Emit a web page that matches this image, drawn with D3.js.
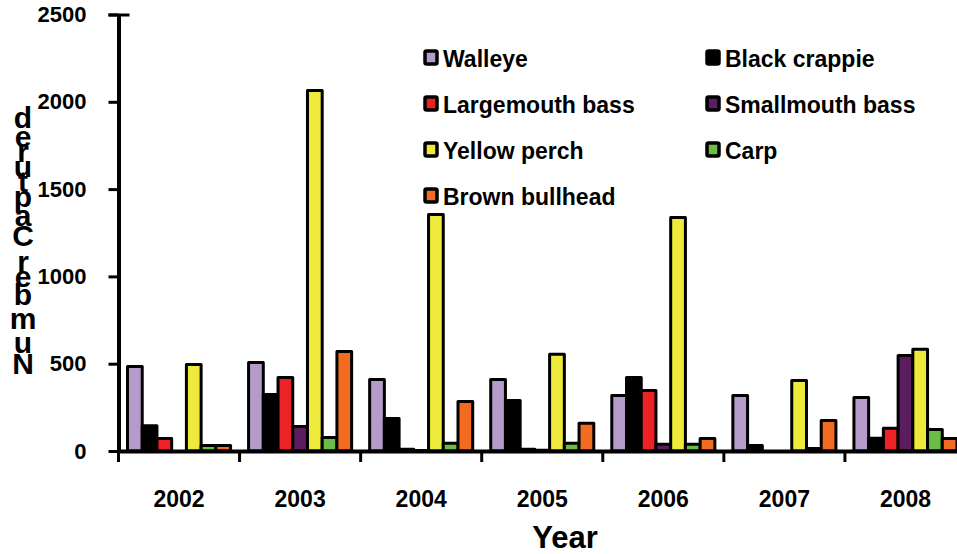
<!DOCTYPE html>
<html>
<head>
<meta charset="utf-8">
<script src="https://cdn.jsdelivr.net/npm/d3@7"></script>
<style>
  html, body { margin: 0; padding: 0; background: #fff; }
  svg { display: block; font-family: "Liberation Sans", Arial, sans-serif; font-weight: bold; }
</style>
</head>
<body>
<svg id="chart" width="957" height="554"></svg>
<script>
// ---- data ----
const years = ["2002", "2003", "2004", "2005", "2006", "2007", "2008"];
const species = ["Walleye", "Black crappie", "Largemouth bass", "Smallmouth bass", "Yellow perch", "Carp", "Brown bullhead"];
const walleye        = [484, 507, 410, 410, 318, 318, 306];
const blackCrappie   = [145, 324, 186, 289, 421, 31, 73];
const largemouthBass = [72, 421, 10, 10, 347, 0, 131];
const smallmouthBass = [0, 140, 3, 5, 39, 0, 547];
const yellowPerch    = [495, 2065, 1355, 554, 1337, 404, 583];
const carp           = [31, 77, 45, 45, 39, 15, 123];
const brownBullhead  = [31, 570, 283, 159, 72, 175, 72];
const yTicks = [0, 500, 1000, 1500, 2000, 2500];
const colors = ["#b59bc9", "#000000", "#ec2227", "#5b1d5f", "#eeea3b", "#6cbd45", "#f26b21"];
const yTitle = "Number Captured";
const xTitle = "Year";

const seriesValues = [walleye, blackCrappie, largemouthBass, smallmouthBass, yellowPerch, carp, brownBullhead];
const series = species.map((name, i) => ({ name, color: colors[i], values: seriesValues[i] }));

// ---- layout ----
const svg = d3.select("#chart");
const x0 = 118.5, x1 = 966, yBase = 451, yTop = 14.5;
const FONT = "'Liberation Sans', Arial, sans-serif";

const x = d3.scaleBand().domain(years).range([x0, x1]).paddingInner(0).paddingOuter(0);
const xInner = d3.scaleBand().domain(species).range([9, x.bandwidth() - 9]).padding(0);
const y = d3.scaleLinear().domain([0, 2500]).range([yBase, yTop]);

// bars
const groups = svg.append("g").selectAll("g")
  .data(years).join("g")
  .attr("transform", d => `translate(${x(d)},0)`);

groups.selectAll("rect")
  .data((yr, gi) => series.map(s => ({ name: s.name, color: s.color, v: s.values[gi] })))
  .join("rect")
  .attr("x", d => xInner(d.name))
  .attr("width", xInner.bandwidth())
  .attr("y", d => y(d.v))
  .attr("height", d => yBase - y(d.v))
  .attr("fill", d => d.color)
  .attr("stroke", "#000")
  .attr("stroke-width", 3)
  .attr("stroke-linejoin", "round");

// y axis
const yAxis = d3.axisLeft(y).tickValues(yTicks).tickFormat(d3.format("d"))
  .tickSize(10).tickPadding(22).tickSizeOuter(0);
const gy = svg.append("g").attr("transform", `translate(${x0},0)`).call(yAxis);
gy.select(".domain").attr("stroke", "#000").attr("stroke-width", 4);
gy.selectAll(".tick line").attr("stroke", "#000").attr("stroke-width", 3)
  .attr("x2", d => d === 2500 ? 0 : -10)
  .attr("x1", d => d === 2500 ? -10 : 0);
gy.selectAll(".tick").filter(d => d === 2500).append("line")
  .attr("x1", -10).attr("x2", 11).attr("stroke", "#000").attr("stroke-width", 3);
gy.selectAll(".tick text").attr("font-size", 22).attr("font-weight", "bold")
  .attr("font-family", FONT).attr("fill", "#000");

// x axis
const xAxis = d3.axisBottom(x).tickSize(0).tickPadding(40);
const gx = svg.append("g").attr("transform", `translate(0,${yBase})`).call(xAxis);
gx.select(".domain").attr("stroke", "#000").attr("stroke-width", 4);
gx.selectAll(".tick text").attr("font-size", 23).attr("font-weight", "bold")
  .attr("font-family", FONT).attr("fill", "#000");
// category boundary ticks
gx.append("g").selectAll("line")
  .data(years).join("line")
  .attr("x1", d => x(d)).attr("x2", d => x(d))
  .attr("y1", 0).attr("y2", 11)
  .attr("stroke", "#000").attr("stroke-width", 3);

// x title
svg.append("text")
  .attr("x", 565).attr("y", 548)
  .attr("text-anchor", "middle")
  .attr("font-size", 31)
  .attr("fill", "#000")
  .text(xTitle);

// y title: upright glyphs stacked bottom-to-top
(function () {
  const fs = 30, k = 1.05;
  const ctx = document.createElement("canvas").getContext("2d");
  ctx.font = `bold ${fs}px ${FONT}`;
  const chars = Array.from(yTitle);
  const widths = chars.map(c => ctx.measureText(c).width);
  const startY = 363 + widths[0] / 2 * k;
  let cum = 0;
  const pos = chars.map((c, i) => {
    const mid = cum + widths[i] / 2;
    cum += widths[i];
    return { c, y: startY - mid * k };
  }).filter(d => d.c !== " ");
  svg.append("g").selectAll("text")
    .data(pos).join("text")
    .attr("x", 23)
    .attr("y", d => d.y)
    .attr("text-anchor", "middle")
    .attr("dominant-baseline", "central")
    .attr("font-size", fs)
    .attr("fill", "#000")
    .text(d => d.c);
})();

// legend
const legend = svg.append("g");
const legItems = legend.selectAll("g")
  .data(series).join("g")
  .attr("transform", (d, i) => `translate(${i % 2 === 0 ? 425 : 707},${67 + Math.floor(i / 2) * 46})`);
legItems.append("rect")
  .attr("x", 0).attr("y", -16)
  .attr("width", 12).attr("height", 13)
  .attr("rx", 1.5)
  .attr("fill", d => d.color)
  .attr("stroke", "#000").attr("stroke-width", 3.5);
legItems.append("text")
  .attr("x", 18).attr("y", 0)
  .attr("font-size", 23)
  .attr("fill", "#000")
  .text(d => d.name);
</script>
</body>
</html>
